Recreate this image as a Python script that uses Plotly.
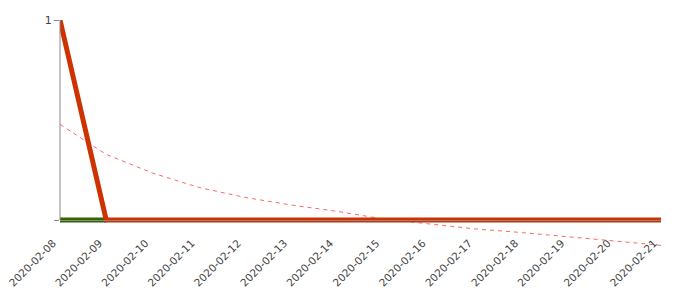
import plotly.graph_objects as go
import pandas as pd

dates = pd.date_range("2020-02-08", "2020-02-21", freq="D").strftime("%Y-%m-%d").tolist()
red_values = [1, 0, 0, 0, 0, 0, 0, 0, 0, 0, 0, 0, 0, 0]
green_values = [0, 0, None, None, None, None, None, None, None, None, None, None, None, None]
trend_values = [0.478, 0.328, 0.235, 0.163, 0.113, 0.075, 0.043, 0.005,
                -0.02, -0.045, -0.063, -0.083, -0.105, -0.127]
y_tickvals = [0, 1]
y_ticktext = ["", "1"]

fig = go.Figure()
fig.add_trace(go.Scatter(x=dates, y=trend_values, mode="lines",
                         line=dict(color="#ff6666", width=1, dash="4px,4px"),
                         showlegend=False, hoverinfo="skip"))
fig.add_trace(go.Scatter(x=dates, y=green_values, mode="lines",
                         line=dict(color="#336600", width=5),
                         showlegend=False))
fig.add_trace(go.Scatter(x=dates, y=red_values, mode="lines",
                         line=dict(color="#cc3300", width=5),
                         showlegend=False))

ymin, ymax = -0.15, 1.0
fig.add_shape(type="line", xref="paper", yref="y", x0=0, x1=0, y0=0, y1=1,
              line=dict(color="#888888", width=1), layer="above")

fig.update_layout(
    width=700, height=300,
    margin=dict(l=60, r=39, t=20, b=50),
    paper_bgcolor="white", plot_bgcolor="white",
    font=dict(family="DejaVu Sans", size=11, color="#444"),
    showlegend=False,
    xaxis=dict(
        type="date",
        range=[dates[0], dates[-1]],
        tickvals=dates, ticktext=dates,
        tickangle=-45,
        showgrid=False, zeroline=False,
        showline=True, linecolor="#888888", linewidth=1,
        ticks="",
        ticklabelstandoff=12,
        ticklabelshift=-7,
        anchor="free", position=(0 - ymin) / (ymax - ymin),
        layer="above traces",
        automargin=False,
        tickfont=dict(family="DejaVu Sans", size=10.5, color="#444"),
    ),
    yaxis=dict(
        range=[ymin, ymax],
        tickvals=y_tickvals, ticktext=y_ticktext,
        ticks="outside", ticklen=5, tickcolor="#888888",
        showgrid=False, zeroline=False, showline=False,
        layer="above traces",
        automargin=False,
        tickfont=dict(family="DejaVu Sans", size=11, color="#444"),
    ),
)

fig.write_html("out.html")
